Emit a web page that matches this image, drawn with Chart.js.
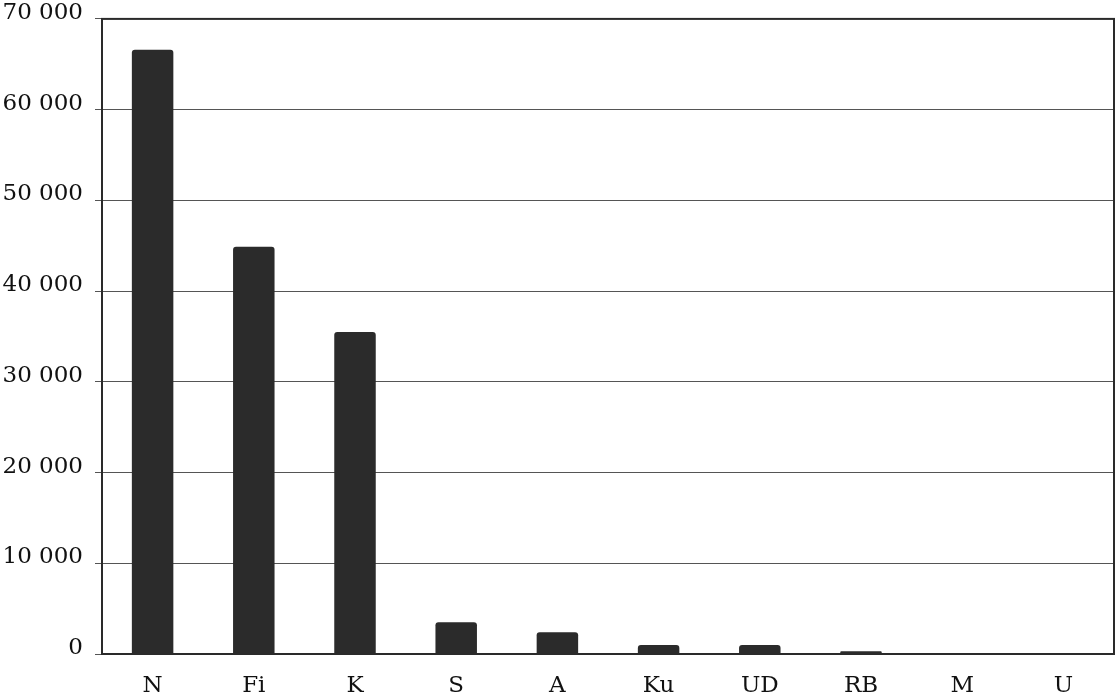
<!DOCTYPE html>
<html>
<head>
<meta charset="utf-8">
<script src="https://cdn.jsdelivr.net/npm/chart.js@4/dist/chart.umd.min.js"></script>
<style>
  html, body { margin: 0; padding: 0; background: #fff; }
  #wrap { width: 1117px; height: 696px; }
</style>
</head>
<body>
<div id="wrap"><canvas id="barChart"></canvas></div>
<script>
const categories = ['N', 'Fi', 'K', 'S', 'A', 'Ku', 'UD', 'RB', 'M', 'U']
const values = [66600, 44900, 35500, 3500, 2400, 1000, 1000, 300, 0, 0]
const yTicks = [0, 10000, 20000, 30000, 40000, 50000, 60000, 70000]

// frame round the plot area
const framePlugin = {
  id: 'frame',
  afterDraw(chart) {
    const { ctx, chartArea: a } = chart
    ctx.save()
    ctx.strokeStyle = '#2a2a2a'
    ctx.lineWidth = 2
    ctx.strokeRect(a.left, a.top, a.right - a.left, a.bottom - a.top)
    ctx.restore()
  }
}

window.addEventListener('load', function () {
  const ctx = document.getElementById('barChart').getContext('2d')
  window.barChart = new Chart(ctx, {
    type: 'bar',
    data: {
      labels: categories,
      datasets: [{
        data: values,
        backgroundColor: '#2b2b2b',
        borderRadius: 3,
        borderSkipped: 'bottom',
        categoryPercentage: 1,
        barPercentage: 0.41
      }]
    },
    options: {
      responsive: true,
      maintainAspectRatio: false,
      animation: false,
      layout: { padding: { top: 17, right: 3, left: 0, bottom: 0 } },
      plugins: {
        legend: { display: false },
        tooltip: { enabled: false }
      },
      scales: {
        x: {
          grid: { display: false },
          border: { display: false },
          ticks: {
            color: '#111',
            font: { family: 'DejaVu Serif', size: 23 },
            padding: 10
          },
          afterFit(scale) { scale.height = 42 }
        },
        y: {
          min: 0,
          max: 70000,
          afterBuildTicks(scale) {
            scale.ticks = yTicks.map(v => ({ value: v }))
          },
          grid: {
            color: '#555',
            lineWidth: 1,
            tickLength: 7
          },
          border: { display: false },
          ticks: {
            color: '#111',
            font: { family: 'DejaVu Serif', size: 23, lineHeight: 0.6 },
            padding: 12,
            labelOffset: -6,
            callback: v => String(v).replace(/\B(?=(\d{3})+(?!\d))/g, ' ')
          },
          afterFit(scale) { scale.width = 102 }
        }
      }
    },
    plugins: [framePlugin]
  })
})
</script>
</body>
</html>
